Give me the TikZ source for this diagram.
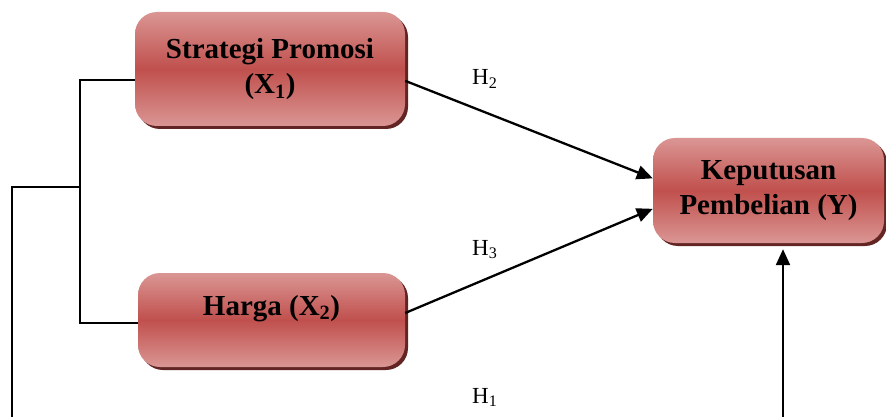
\documentclass[tikz,border=0pt]{standalone}
\usepackage{fontspec}
\setmainfont{Liberation Serif}
\usetikzlibrary{arrows.meta,shadows}

\definecolor{boxtop}{RGB}{218,150,148}
\definecolor{boxmid}{RGB}{192,80,77}
\definecolor{boxshade}{RGB}{99,37,35}

\tikzset{
  varbox/.style={rounded corners=22pt, top color=boxtop, bottom color=boxtop,
    middle color=boxmid,
    drop shadow={shadow xshift=3pt, shadow yshift=-3pt, fill=boxshade, opacity=1},
    align=center, inner sep=0pt, font=\bfseries\fontsize{29}{35}\selectfont},
  hyp/.style={anchor=base west, inner sep=0pt, font=\fontsize{23}{27}\selectfont},
  link/.style={line width=2.3pt},
  arr/.style={line width=2.3pt, -{Triangle[length=16pt,width=14pt]}}
}

\begin{document}
\begin{tikzpicture}[x=1pt, y=-1pt]
    \useasboundingbox (0,0) rectangle (886,417);

    % variables
    \node[varbox, minimum width=270pt, minimum height=114pt] (x1) at (270,69)
        {Strategi Promosi\\(X\textsubscript{1})};
    \node[varbox, minimum width=267pt, minimum height=94pt, text depth=30pt] (x2) at (271.5,320)
        {Harga (X\textsubscript{2})};
    \node[varbox, minimum width=231pt, minimum height=105pt] (y) at (768.5,190.5)
        {Keputusan\\Pembelian (Y)};

    % hypotheses
    \node[hyp] (h2) at (472,85) {H\textsubscript{2}};
    \node[hyp] (h3) at (472,255) {H\textsubscript{3}};
    \node[hyp] (h1) at (472,403) {H\textsubscript{1}};

    % bracket joining X1 and X2
    \coordinate (jtop) at (80,80);
    \coordinate (jbot) at (80,323);
    \coordinate (jmid) at (80,187);
    \coordinate (bl) at (12,417);
    \coordinate (br) at (783,417);

    \draw[link] (x1.west |- jtop) -- (jtop) -- (jbot) -- (x2.west |- jbot);
    \draw[link] (bl) |- (jmid);

    \draw[arr] (x1.-5.5) -- (y.174.8);
    \draw[arr] (x2.3.4) -- (y.-171.4);
    \draw[arr, shorten >=6pt] (br) -- (y.south -| br);
\end{tikzpicture}
\end{document}
